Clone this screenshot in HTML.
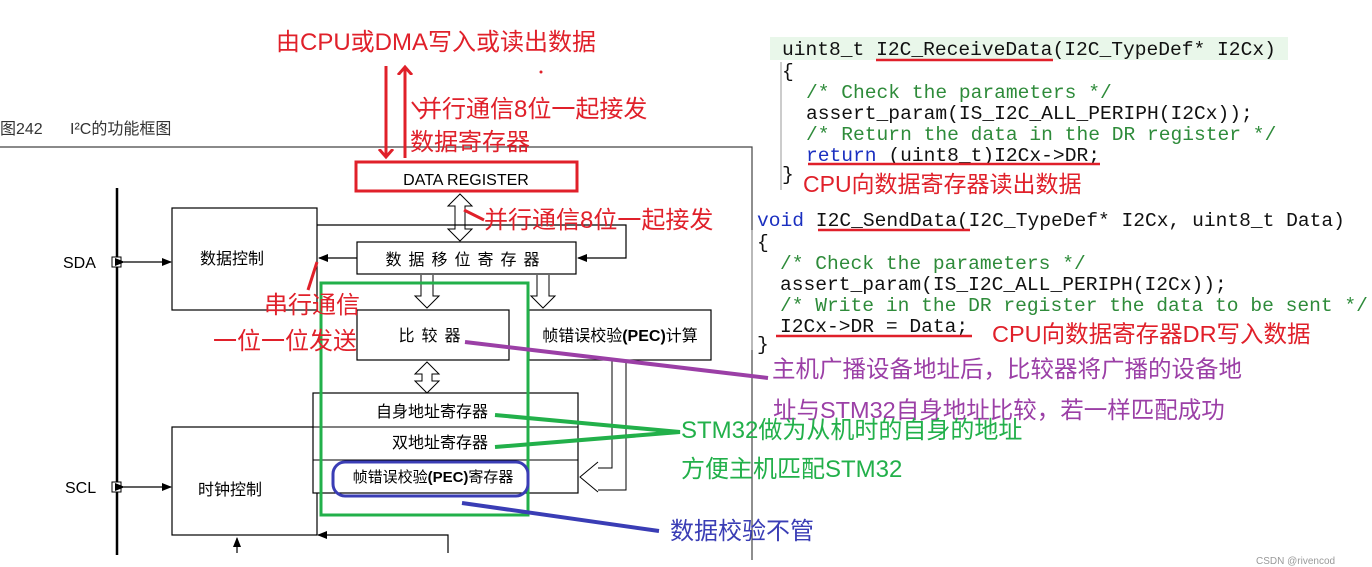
<!DOCTYPE html>
<html><head><meta charset="utf-8"><style>
html,body{margin:0;padding:0;background:#fff;}
svg{display:block;}
.cn{font-family:"Liberation Sans","Noto Sans CJK SC",sans-serif;}
.mono{font-family:"Liberation Mono","Noto Sans CJK SC",monospace;font-size:19.6px;}
</style></head><body>
<svg width="1372" height="567" viewBox="0 0 1372 567" xmlns="http://www.w3.org/2000/svg">
<defs>
<marker id="ab" markerWidth="10" markerHeight="10" refX="9" refY="5" orient="auto" markerUnits="userSpaceOnUse"><path d="M0,1 L10,5 L0,9 z" fill="#000"/></marker>
<marker id="ar" markerWidth="16" markerHeight="16" refX="8" refY="8" orient="auto" markerUnits="userSpaceOnUse"><path d="M0,1 L8,8 L0,15" fill="none" stroke="#e0202a" stroke-width="3"/></marker>
</defs>
<g class="cn">
<text x="0" y="134" font-size="16" fill="#333">图242</text>
<text x="70" y="134" font-size="16" fill="#333">I²C的功能框图</text>
<path d="M0,147 H752 V560" fill="none" stroke="#444" stroke-width="1.2"/>
<line x1="117" y1="188" x2="117" y2="555" stroke="#000" stroke-width="2.5"/>
<text x="63" y="268" font-size="16">SDA</text>
<text x="65" y="493" font-size="16">SCL</text>
<rect x="112" y="257" width="9" height="10" fill="#fff" stroke="#000"/>
<rect x="112" y="482" width="9" height="10" fill="#fff" stroke="#000"/>
<line x1="124" y1="262" x2="171" y2="262" stroke="#000" stroke-width="1.3" marker-end="url(#ab)" marker-start="url(#ab)"/>
<line x1="124" y1="487" x2="171" y2="487" stroke="#000" stroke-width="1.3" marker-end="url(#ab)" marker-start="url(#ab)"/>
<rect x="172" y="208" width="145" height="102" fill="#fff" stroke="#000" stroke-width="1.2"/>
<text x="232" y="264" font-size="16" text-anchor="middle">数据控制</text>
<rect x="172" y="427" width="145" height="108" fill="#fff" stroke="#000" stroke-width="1.2"/>
<text x="230" y="495" font-size="16" text-anchor="middle">时钟控制</text>
<path d="M448,553 V535 H318" fill="none" stroke="#000" stroke-width="1.2" marker-end="url(#ab)"/>
<line x1="237" y1="553" x2="237" y2="538" stroke="#000" stroke-width="1.2" marker-end="url(#ab)"/>
<rect x="356" y="162" width="221" height="29" fill="#fff" stroke="#e0202a" stroke-width="3"/>
<text x="466" y="185" font-size="16" text-anchor="middle">DATA REGISTER</text>
<path d="M460,194 L472,206 L465,206 L465,229 L472,229 L460,241 L448,229 L455,229 L455,206 L448,206 Z" fill="#fff" stroke="#000"/>
<path d="M317,225 H626 V258 H578" fill="none" stroke="#000" stroke-width="1.2" marker-end="url(#ab)"/>
<rect x="357" y="242" width="219" height="32" fill="#fff" stroke="#000" stroke-width="1.2"/>
<text x="466" y="265" font-size="16" text-anchor="middle" letter-spacing="7">数据移位寄存器</text>
<line x1="357" y1="258" x2="319" y2="258" stroke="#000" stroke-width="1.2" marker-end="url(#ab)"/>
<path d="M421,275 V296 H415 L427,308 L439,296 H433 V275" fill="#fff" stroke="#000"/>
<path d="M537,275 V296 H531 L543,308 L555,296 H549 V275" fill="#fff" stroke="#000"/>
<rect x="357" y="310" width="152" height="50" fill="#fff" stroke="#000" stroke-width="1.2"/>
<text x="433" y="341" font-size="16" text-anchor="middle" letter-spacing="7">比较器</text>
<rect x="529" y="310" width="182" height="50" fill="#fff" stroke="#000" stroke-width="1.2"/>
<text x="620" y="341" font-size="16" text-anchor="middle">帧错误校验<tspan font-weight="bold">(PEC)</tspan>计算</text>
<path d="M427,362 L439,374 L432,374 L432,381 L439,381 L427,393 L415,381 L422,381 L422,374 L415,374 Z" fill="#fff" stroke="#000"/>
<rect x="313" y="393" width="265" height="100" fill="#fff" stroke="#000" stroke-width="1.2"/>
<line x1="313" y1="427" x2="578" y2="427" stroke="#000"/>
<line x1="313" y1="460" x2="578" y2="460" stroke="#000"/>
<text x="432" y="417" font-size="16" text-anchor="middle">自身地址寄存器</text>
<text x="440" y="448" font-size="16" text-anchor="middle">双地址寄存器</text>
<text x="433" y="482" font-size="15" text-anchor="middle">帧错误校验<tspan font-weight="bold">(PEC)</tspan>寄存器</text>
<path d="M612,360 V468 H598 M626,360 V490 H598" fill="none" stroke="#000" stroke-width="1"/>
<path d="M598,462 L580,477 L598,492" fill="#fff" stroke="#000"/>
<rect x="321" y="283" width="207" height="232" fill="none" stroke="#22b04a" stroke-width="3"/>
<rect x="333" y="462" width="195" height="34" rx="12" fill="none" stroke="#3a3db5" stroke-width="3"/>
<text x="436" y="50" font-size="24" fill="#e0202a" text-anchor="middle">由CPU或DMA写入或读出数据</text>
<line x1="386" y1="66" x2="386" y2="157" stroke="#e0202a" stroke-width="3" marker-end="url(#ar)"/>
<line x1="405" y1="158" x2="405" y2="67" stroke="#e0202a" stroke-width="3" marker-end="url(#ar)"/>
<text x="418" y="117" font-size="24" fill="#e0202a">并行通信8位一起接发</text>
<line x1="412" y1="102" x2="420" y2="112" stroke="#e0202a" stroke-width="2"/>
<text x="410" y="150" font-size="24" fill="#e0202a">数据寄存器</text>
<text x="484" y="228" font-size="24" fill="#e0202a">并行通信8位一起接发</text>
<line x1="464" y1="210" x2="484" y2="220" stroke="#e0202a" stroke-width="3"/>
<line x1="317" y1="262" x2="308" y2="290" stroke="#e0202a" stroke-width="3"/>
<text x="264" y="313" font-size="24" fill="#e0202a">串行通信</text>
<text x="213" y="349" font-size="24" fill="#e0202a">一位一位发送</text>
<line x1="465" y1="342" x2="768" y2="378" stroke="#9b3fa6" stroke-width="4"/>
<text x="772" y="377" font-size="23.5" fill="#9b3fa6">主机广播设备地址后，比较器将广播的设备地</text>
<text x="773" y="418" font-size="23.5" fill="#9b3fa6">址与STM32自身地址比较，若一样匹配成功</text>
<path d="M495,415 L680,432 L495,447" fill="none" stroke="#22b04a" stroke-width="4"/>
<text x="681" y="438" font-size="24" fill="#22b04a">STM32做为从机时的自身的地址</text>
<text x="681" y="477" font-size="24" fill="#22b04a">方便主机匹配STM32</text>
<line x1="462" y1="503" x2="659" y2="531" stroke="#3a3db5" stroke-width="4"/>
<text x="670" y="539" font-size="24" fill="#3a3db5">数据校验不管</text>
<circle cx="541" cy="72" r="1.5" fill="#e0202a"/>
<rect x="770" y="37" width="518" height="23" fill="#e9f7ea"/>
<line x1="781" y1="62" x2="781" y2="190" stroke="#999"/>
<line x1="752" y1="230" x2="752" y2="350" stroke="#999"/>
</g>
<g class="mono">
<text x="782" y="55" fill="#111">uint8_t I2C_ReceiveData(I2C_TypeDef* I2Cx)</text>
<text x="782" y="77" fill="#111">{</text>
<text x="806" y="98" fill="#2e8b3a">/* Check the parameters */</text>
<text x="806" y="119" fill="#111">assert_param(IS_I2C_ALL_PERIPH(I2Cx));</text>
<text x="806" y="140" fill="#2e8b3a">/* Return the data in the DR register */</text>
<text x="806" y="161" fill="#111"><tspan fill="#1a2fc0">return</tspan> (uint8_t)I2Cx-&gt;DR;</text>
<text x="782" y="180" fill="#111">}</text>
<text x="757" y="226" fill="#111"><tspan fill="#1a2fc0">void</tspan> I2C_SendData(I2C_TypeDef* I2Cx, uint8_t Data)</text>
<text x="757" y="248" fill="#111">{</text>
<text x="780" y="269" fill="#2e8b3a">/* Check the parameters */</text>
<text x="780" y="290" fill="#111">assert_param(IS_I2C_ALL_PERIPH(I2Cx));</text>
<text x="780" y="311" fill="#2e8b3a">/* Write in the DR register the data to be sent */</text>
<text x="780" y="332" fill="#111">I2Cx-&gt;DR = Data;</text>
<text x="757" y="350" fill="#111">}</text>
</g>
<g class="cn">
<line x1="876" y1="60" x2="1053" y2="60" stroke="#e0202a" stroke-width="2.5"/>
<line x1="808" y1="164" x2="1100" y2="164" stroke="#e0202a" stroke-width="2.5"/>
<line x1="818" y1="230" x2="970" y2="230" stroke="#e0202a" stroke-width="2.5"/>
<line x1="776" y1="336" x2="972" y2="336" stroke="#e0202a" stroke-width="2.5"/>
<text x="803" y="192" font-size="23" fill="#e0202a">CPU向数据寄存器读出数据</text>
<text x="992" y="342" font-size="23.5" fill="#e0202a">CPU向数据寄存器DR写入数据</text>
<text x="1256" y="564" font-size="10" fill="#999">CSDN @rivencod</text>
</g>
</svg>
</body></html>
